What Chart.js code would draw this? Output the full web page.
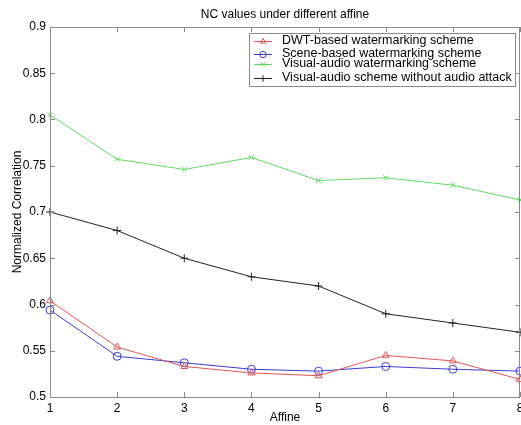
<!DOCTYPE html>
<html>
<head>
<meta charset="utf-8">
<script src="https://cdn.jsdelivr.net/npm/chart.js@4"></script>
<style>
  html, body { margin: 0; padding: 0; background: #fff; }
  #wrap { width: 521px; height: 425px; }
</style>
</head>
<body>
<div id="wrap"><canvas id="ncChart" width="521" height="425"></canvas></div>
<script>
const affine = [1, 2, 3, 4, 5, 6, 7, 8];
const dwtValues = [0.604, 0.554, 0.533, 0.526, 0.523, 0.545, 0.539, 0.519];
const sceneValues = [0.594, 0.544, 0.537, 0.530, 0.528, 0.533, 0.530, 0.528];
const visualAudioValues = [0.805, 0.757, 0.746, 0.759, 0.734, 0.737, 0.729, 0.713];
const noAttackValues = [0.700, 0.680, 0.650, 0.630, 0.620, 0.590, 0.580, 0.570];
const seriesLabels = [
  'DWT-based watermarking scheme',
  'Scene-based watermarking scheme',
  'Visual-audio watermarking scheme',
  'Visual-audio scheme without audio attack'
];

const FONT = 'Arial, "Liberation Sans", sans-serif';
const frameColor = '#8a8a8a';

function toPoints(vals) {
  return vals.map((v, i) => ({ x: affine[i], y: v }));
}

function makeSet(label, vals, color, style, radius, rot) {
  return {
    label: label,
    data: toPoints(vals),
    borderColor: color,
    backgroundColor: 'rgba(0,0,0,0)',
    pointBorderColor: color,
    pointBackgroundColor: 'rgba(0,0,0,0)',
    pointStyle: style,
    pointRadius: radius,
    pointRotation: rot || 0,
    pointBorderWidth: 1,
    borderWidth: 1,
    tension: 0,
    clip: false
  };
}

// box, inside ticks, title and legend drawn like the original figure
const figurePlugin = {
  id: 'figure',
  afterDraw(chart) {
    const { ctx, chartArea: a, scales } = chart;
    ctx.save();
    ctx.strokeStyle = frameColor;
    ctx.lineWidth = 1;
    ctx.strokeRect(a.left + 0.5, a.top + 0.5, a.right - a.left - 1, a.bottom - a.top);
    ctx.beginPath();
    scales.x.ticks.forEach(t => {
      const px = Math.round(scales.x.getPixelForValue(t.value)) + 0.5;
      ctx.moveTo(px, a.bottom); ctx.lineTo(px, a.bottom - 5);
      ctx.moveTo(px, a.top); ctx.lineTo(px, a.top + 5);
    });
    scales.y.ticks.forEach(t => {
      const py = Math.round(scales.y.getPixelForValue(t.value)) + 0.5;
      ctx.moveTo(a.left, py); ctx.lineTo(a.left + 5, py);
      ctx.moveTo(a.right, py); ctx.lineTo(a.right - 5, py);
    });
    ctx.stroke();

    // title
    ctx.fillStyle = '#000';
    ctx.font = '12px ' + FONT;
    ctx.textAlign = 'center';
    ctx.textBaseline = 'middle';
    ctx.fillText('NC values under different affine', (a.left + a.right) / 2, 15);

    // legend
    const lx = 249, ly = 33, lw = 266, lh = 53;
    ctx.fillStyle = '#fff';
    ctx.fillRect(lx, ly, lw, lh);
    ctx.strokeStyle = frameColor;
    ctx.strokeRect(lx + 0.5, ly + 0.5, lw, lh);
    const rows = [41, 54, 64, 78];
    ctx.font = '12.5px ' + FONT;
    ctx.textAlign = 'left';
    chart.data.datasets.forEach((ds, i) => {
      const y = rows[i];
      ctx.strokeStyle = ds.borderColor;
      ctx.beginPath();
      ctx.moveTo(254, y + 0.5); ctx.lineTo(272, y + 0.5);
      ctx.stroke();
      ctx.fillStyle = 'rgba(0,0,0,0)';
      Chart.helpers.drawPoint(ctx, {
        pointStyle: ds.pointStyle, radius: 3.2,
        rotation: ds.pointRotation, borderWidth: 1
      }, 263, y + 0.5);
      ctx.fillStyle = '#000';
      ctx.fillText(ds.label, 282, y);
    });
    ctx.restore();
  }
};

new Chart(document.getElementById('ncChart').getContext('2d'), {
  type: 'line',
  data: {
    datasets: [
      makeSet(seriesLabels[0], dwtValues, '#e05555', 'triangle', 4),
      makeSet(seriesLabels[1], sceneValues, '#3c3cd2', 'circle', 4),
      makeSet(seriesLabels[2], visualAudioValues, '#5fdc5f', 'crossRot', 3.5),
      makeSet(seriesLabels[3], noAttackValues, '#222222', 'cross', 4)
    ]
  },
  plugins: [figurePlugin],
  options: {
    responsive: false,
    animation: false,
    layout: { autoPadding: false, padding: { top: 27, right: 1, left: 0, bottom: 0 } },
    plugins: {
      legend: { display: false },
      title: { display: false },
      tooltip: { enabled: false }
    },
    scales: {
      x: {
        type: 'linear',
        min: 1, max: 8,
        grid: { display: false, drawTicks: false },
        border: { display: false },
        ticks: { stepSize: 1, padding: 4, color: '#000', font: { family: FONT, size: 12 } },
        title: { display: true, text: 'Affine', color: '#000', padding: { top: 2, bottom: 0 }, font: { family: FONT, size: 12 } },
        afterFit(s) { s.height = 28; s.paddingLeft = 0; s.paddingRight = 0; }
      },
      y: {
        min: 0.5, max: 0.9,
        grid: { display: false, drawTicks: false },
        border: { display: false },
        ticks: {
          stepSize: 0.05, padding: 4, color: '#000',
          font: { family: FONT, size: 12 },
          callback: v => String(parseFloat(v.toFixed(2)))
        },
        title: { display: true, text: 'Normalized Correlation', color: '#000', padding: { top: 10, bottom: 0 }, font: { family: FONT, size: 12 } },
        afterFit(s) { s.width = 50; s.paddingTop = 0; s.paddingBottom = 0; }
      }
    }
  }
});
</script>
</body>
</html>
